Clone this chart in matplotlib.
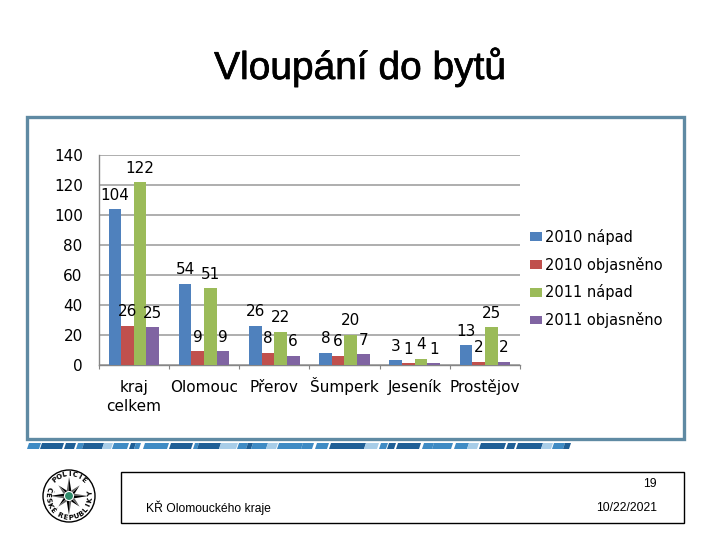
import numpy as np
import matplotlib
matplotlib.use("Agg")
import matplotlib.pyplot as plt
import matplotlib.patheffects as pe
from matplotlib.patches import Polygon, Rectangle, Circle

plt.rcParams["font.family"] = "DejaVu Sans"

kategorie = ["kraj\ncelkem", "Olomouc", "Přerov", "Šumperk", "Jeseník", "Prostějov"]
napad_2010 = [104, 54, 26, 8, 3, 13]
objasneno_2010 = [26, 9, 8, 6, 1, 2]
napad_2011 = [122, 51, 22, 20, 4, 25]
objasneno_2011 = [25, 9, 6, 7, 1, 2]

serie = [napad_2010, objasneno_2010, napad_2011, objasneno_2011]
nazvy = ["2010 nápad", "2010 objasněno", "2011 nápad", "2011 objasněno"]
barvy = ["#4F81BD", "#C0504D", "#9BBB59", "#8064A2"]
y_ticks = [0, 20, 40, 60, 80, 100, 120, 140]

# strip under the chart frame: x from, x to, shade
TM = "#1F5F96"
ST = "#3F8BC4"
SV = "#A8CDE8"
pruh = [(28, 40, ST), (41, 63, TM), (65, 75, TM), (77, 83, ST), (83, 103, TM),
        (103, 112, SV), (113, 128, ST), (130, 135, TM), (135, 140, ST),
        (144, 168, ST), (170, 192, TM), (194, 198, ST), (198, 220, TM),
        (220, 237, SV), (238, 247, ST), (247, 252, TM), (252, 267, ST),
        (267, 277, SV), (278, 302, ST), (302, 313, ST), (316, 328, ST),
        (330, 365, TM), (365, 378, SV), (380, 387, ST), (388, 395, TM),
        (397, 420, TM), (423, 433, ST), (433, 452, ST), (455, 468, ST),
        (468, 478, SV), (480, 505, TM), (507, 515, TM), (517, 542, TM),
        (542, 552, SV), (553, 564, ST), (564, 570, TM)]

fig = plt.figure(figsize=(7.2, 5.4), dpi=100)
fig.patch.set_facecolor("white")

# whole slide in pixel coordinates
bg = fig.add_axes([0, 0, 1, 1])
bg.set_xlim(0, 720)
bg.set_ylim(540, 0)
bg.axis("off")

titulek = bg.text(360, 67, "Vloupání do bytů", family="Liberation Sans", fontsize=28,
                  ha="center", va="center", color="black")
titulek.set_path_effects([pe.withStroke(linewidth=0.5, foreground="black")])

bg.add_patch(Rectangle((27, 117), 657, 322, fc="white", ec="#5F8AA3", lw=2.4))

for x0, x1, c in pruh:
    bg.add_patch(Polygon([(x0 + 1, 443), (x1 + 1, 443), (x1 - 1, 449), (x0 - 1, 449)],
                         fc=c, ec="none"))

# footer box
bg.add_patch(Rectangle((121, 472), 563, 51, fc="white", ec="black", lw=1))
bg.text(146, 508, "KŘ Olomouckého kraje", family="Liberation Sans", fontsize=8.7,
        ha="left", va="center")
bg.text(657, 484, "19", family="Liberation Sans", fontsize=8.7, ha="right", va="center")
bg.text(657, 508, "10/22/2021", family="Liberation Sans", fontsize=8.7, ha="right", va="center")

# police badge
cx, cy = 69, 496
bg.add_patch(Circle((cx, cy), 26, fc="white", ec="black", lw=1))
for i in range(8):
    a = np.radians(45 * i)
    r = 19 if i % 2 == 0 else 15
    for strana, barva in ((1, "black"), (-1, "#666666")):
        b = a + strana * np.radians(22)
        bg.add_patch(Polygon([(cx + r * np.sin(a), cy - r * np.cos(a)),
                              (cx + 6 * np.sin(b), cy - 6 * np.cos(b)),
                              (cx, cy)], fc=barva, ec="none"))
bg.add_patch(Circle((cx, cy), 4.5, fc="#2E8B6A", ec="white", lw=0.8))

for i, ch in enumerate("POLICIE"):
    a = -40 + i * 13.5
    bg.text(cx + 21.5 * np.sin(np.radians(a)), cy - 21.5 * np.cos(np.radians(a)), ch,
            fontsize=5, fontweight="bold", rotation=-a, ha="center", va="center")
for i, ch in enumerate("ČESKÉ"):
    a = -72 - i * 15
    bg.text(cx + 21.5 * np.sin(np.radians(a)), cy - 21.5 * np.cos(np.radians(a)), ch,
            fontsize=5, fontweight="bold", rotation=-a - 180, ha="center", va="center")
for i, ch in enumerate("REPUBLIKY"):
    a = 205 - i * 15
    bg.text(cx + 21.5 * np.sin(np.radians(a)), cy - 21.5 * np.cos(np.radians(a)), ch,
            fontsize=5, fontweight="bold", rotation=-a - 180, ha="center", va="center")

# chart itself
left, right, top, bottom = 98.7, 520, 155, 364.7
ax = fig.add_axes([left / 720, 1 - bottom / 540, (right - left) / 720, (bottom - top) / 540])
ax.patch.set_alpha(0)

x = np.arange(len(kategorie))
w = 0.18
for i, (hodnoty, nazev, barva) in enumerate(zip(serie, nazvy, barvy)):
    poz = x + (i - 1.5) * w
    ax.bar(poz, hodnoty, w, color=barva, label=nazev, zorder=3)
    for px, h in zip(poz, hodnoty):
        ax.annotate(str(h), (px, h), xytext=(0, 10), textcoords="offset points",
                    ha="center", va="center", fontsize=11, zorder=4)

ax.set_xlim(-0.5, len(kategorie) - 0.5)
ax.set_ylim(0, 140)
ax.set_yticks(y_ticks)
ax.yaxis.grid(True, color="#999999", lw=1.1, zorder=1)
ax.set_axisbelow(True)
for s in ("top", "right"):
    ax.spines[s].set_visible(False)
for s in ("left", "bottom"):
    ax.spines[s].set_color("#868686")
    ax.spines[s].set_linewidth(1.0)

ax.set_xticks(np.arange(len(kategorie) + 1) - 0.5)
ax.set_xticklabels([])
# category names line by line, so that accents do not shift the baseline
for px, nazev in zip(x, kategorie):
    for j, radek in enumerate(nazev.split("\n")):
        ax.annotate(radek, (px, 0), xytext=(0, -20 - 13 * j), textcoords="offset points",
                    ha="center", va="baseline", fontsize=11, annotation_clip=False)
ax.tick_params(axis="x", which="major", length=3, color="#868686")
ax.tick_params(axis="y", length=0, pad=11.5, labelsize=11)

ax.legend(loc="center left", bbox_to_anchor=(530 / 720, 1 - 278.5 / 540),
          bbox_transform=fig.transFigure, frameon=False, fontsize=10.5,
          handlelength=0.8, handleheight=0.55, handletextpad=0.25, labelspacing=0.81,
          borderpad=0, borderaxespad=0)

fig.savefig("out.png", dpi=100)
